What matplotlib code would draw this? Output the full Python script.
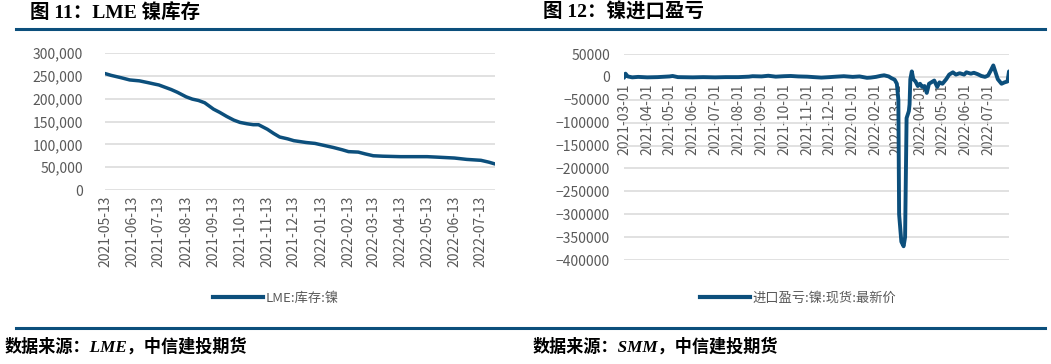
import matplotlib
matplotlib.use('Agg')
import matplotlib.pyplot as plt
import matplotlib.dates as mdates
from matplotlib.lines import Line2D
import pandas as pd

plt.rcParams['font.family'] = ['Noto Sans CJK SC', 'DejaVu Sans']

# LME 镍库存
stock_dates = ['2021-05-13', '2021-05-20', '2021-05-31', '2021-06-10', '2021-06-21',
               '2021-07-01', '2021-07-08', '2021-07-13', '2021-07-20', '2021-07-27',
               '2021-08-03', '2021-08-13', '2021-08-20', '2021-08-27', '2021-09-03',
               '2021-09-13', '2021-09-20', '2021-09-28', '2021-10-06', '2021-10-13',
               '2021-10-21', '2021-10-28', '2021-11-03', '2021-11-13', '2021-11-20',
               '2021-11-27', '2021-12-06', '2021-12-13', '2021-12-27', '2022-01-06',
               '2022-01-13', '2022-01-27', '2022-02-06', '2022-02-13', '2022-02-24',
               '2022-03-04', '2022-03-13', '2022-03-24', '2022-04-13', '2022-05-13',
               '2022-05-24', '2022-06-13', '2022-06-27', '2022-07-13', '2022-07-22',
               '2022-07-29']
stock_vals = [255000, 251000, 246000, 241000, 239000,
              235000, 232000, 230000, 225000, 220000,
              214000, 204000, 199000, 196000, 191000,
              177000, 170000, 161000, 153000, 148000,
              145000, 143000, 143000, 133000, 124000,
              116000, 112000, 108000, 104000, 102000,
              99000, 93000, 88000, 84000, 83000,
              79000, 75000, 74000, 73000, 73000,
              72000, 70000, 67000, 65000, 61000,
              57000]
stock_ticks = ['2021-05-13', '2021-06-13', '2021-07-13', '2021-08-13', '2021-09-13',
               '2021-10-13', '2021-11-13', '2021-12-13', '2022-01-13', '2022-02-13',
               '2022-03-13', '2022-04-13', '2022-05-13', '2022-06-13', '2022-07-13']

# 镍进口盈亏
pl_dates = ['2021-03-01', '2021-03-03', '2021-03-06', '2021-03-12', '2021-03-20',
            '2021-04-01', '2021-04-15', '2021-05-01', '2021-05-05', '2021-05-12',
            '2021-06-01', '2021-06-15', '2021-07-01', '2021-07-15', '2021-08-01',
            '2021-08-15', '2021-08-20', '2021-09-01', '2021-09-10', '2021-09-20',
            '2021-10-01', '2021-10-10', '2021-10-20', '2021-11-01', '2021-11-10',
            '2021-11-20', '2021-12-01', '2021-12-10', '2021-12-20', '2022-01-01',
            '2022-01-10', '2022-01-20', '2022-01-25', '2022-02-01', '2022-02-08',
            '2022-02-12', '2022-02-18', '2022-02-22', '2022-02-26', '2022-03-01',
            '2022-03-03', '2022-03-04', '2022-03-07', '2022-03-10', '2022-03-12',
            '2022-03-14', '2022-03-17', '2022-03-18', '2022-03-19', '2022-03-21',
            '2022-03-23', '2022-03-26', '2022-03-29', '2022-04-01', '2022-04-04',
            '2022-04-07', '2022-04-10', '2022-04-13', '2022-04-16', '2022-04-20',
            '2022-04-24', '2022-04-27', '2022-05-01', '2022-05-06', '2022-05-10',
            '2022-05-15', '2022-05-19', '2022-05-24', '2022-05-30', '2022-06-02',
            '2022-06-08', '2022-06-12', '2022-06-17', '2022-06-22', '2022-06-27',
            '2022-07-01', '2022-07-05', '2022-07-08', '2022-07-11', '2022-07-14',
            '2022-07-19', '2022-07-23', '2022-07-27', '2022-07-29']
pl_vals = [-2000, 7000, 1000, -1000, 0,
           -1000, -500, 1000, 2000, -500,
           -1000, -500, -1000, -500, -500,
           500, 1500, 1000, 2500, 500,
           1500, 2000, 1000, 500, -500,
           -1500, -500, 500, 1500, 0,
           1000, -2000, -1500, 0, 2500,
           3500, 1000, -3000, -6000, -15000,
           -50000, -300000, -360000, -370000, -350000,
           -90000, -75000, -60000, -5000, 12000,
           -5000, -10000, -20000, -15000, -22000,
           -20000, -35000, -15000, -12000, -8000,
           -22000, -12000, -15000, -5000, 5000,
           10000, 5000, 8000, 5000, 10000,
           7000, 9000, 6000, 2000, 0,
           3000, 15000, 25000, 10000, -5000,
           -15000, -12000, -10000, 12000]

blue = '#0C4F7C'
grid_c = '#D9D9D9'
txt_c = '#595959'
W, H = 1051, 364

fig = plt.figure(figsize=(W / 100, H / 100), dpi=100)


def px_axes(x0, y0, x1, y1):
    return fig.add_axes([x0 / W, 1 - y1 / H, (x1 - x0) / W, (y1 - y0) / H])


def style(ax):
    for s in ax.spines.values():
        s.set_visible(False)
    ax.grid(axis='y', color=grid_c, lw=1.1)
    ax.set_axisbelow(True)
    ax.tick_params(axis='both', length=0, colors=txt_c, labelsize=10)


# left chart
ax1 = px_axes(105, 53, 495, 190)
ax1.plot(pd.to_datetime(stock_dates), stock_vals, color=blue, lw=2.5,
         solid_capstyle='round')
ax1.set_ylim(0, 300000)
ax1.set_yticks(range(0, 300001, 50000))
ax1.set_yticklabels([f'{v:,}' for v in range(0, 300001, 50000)])
ax1.set_xlim(pd.Timestamp('2021-05-13'), pd.Timestamp('2022-07-29'))
ax1.set_xticks(pd.to_datetime(stock_ticks))
ax1.xaxis.set_major_formatter(mdates.DateFormatter('%Y-%m-%d'))
style(ax1)
ax1.tick_params(axis='y', pad=16)
ax1.tick_params(axis='x', rotation=90, pad=4)

# right chart
ax2 = px_axes(624, 54, 1009, 260)
ax2.plot(pd.to_datetime(pl_dates), pl_vals, color=blue, lw=2.8,
         solid_capstyle='round', solid_joinstyle='round')
ax2.set_ylim(-400000, 50000)
ax2.set_yticks(range(-400000, 50001, 50000))
ax2.set_xlim(pd.Timestamp('2021-03-01'), pd.Timestamp('2022-07-29'))
ax2.set_xticks(pd.date_range('2021-03-01', '2022-07-01', freq='MS'))
ax2.xaxis.set_major_formatter(mdates.DateFormatter('%Y-%m-%d'))
style(ax2)
ax2.spines['bottom'].set_position(('data', 0))
ax2.tick_params(axis='y', pad=10)
ax2.tick_params(axis='x', rotation=90, pad=5)

# headers
title_font = ['Liberation Serif', 'Noto Sans CJK SC']
fig.text(30 / W, 1 - 12 / H, '图 11：LME 镍库存', family=title_font,
         weight='bold', fontsize=14, va='center', ha='left')
fig.text(543 / W, 1 - 12 / H, '图 12：镍进口盈亏', family=title_font,
         weight='bold', fontsize=14, va='center', ha='left')
fig.add_artist(Line2D([16 / W, 1045 / W], [1 - 28.5 / H] * 2, color=blue, lw=2.2))
fig.add_artist(Line2D([16 / W, 1045 / W], [1 - 328 / H] * 2, color=blue, lw=2.2))

# legends
h1 = Line2D([], [], color=blue, lw=3)
fig.legend([h1], ['LME:库存:镍'], loc='center', bbox_to_anchor=(276 / W, 1 - 298 / H),
           frameon=False, fontsize=9.5, labelcolor=txt_c, handlelength=3.8,
           handletextpad=0.2)
h2 = Line2D([], [], color=blue, lw=3)
fig.legend([h2], ['进口盈亏:镍:现货:最新价'], loc='center',
           bbox_to_anchor=(798 / W, 1 - 298 / H),
           frameon=False, fontsize=9.5, labelcolor=txt_c, handlelength=3.8,
           handletextpad=0.2)

# sources
fig.text(5 / W, 1 - 347 / H, '数据来源：LME，中信建投期货', family=title_font,
         weight='bold', style='italic', fontsize=12.3, va='center', ha='left')
fig.text(533 / W, 1 - 347 / H, '数据来源：SMM，中信建投期货', family=title_font,
         weight='bold', style='italic', fontsize=12.3, va='center', ha='left')

fig.savefig('out.png', dpi=100)
